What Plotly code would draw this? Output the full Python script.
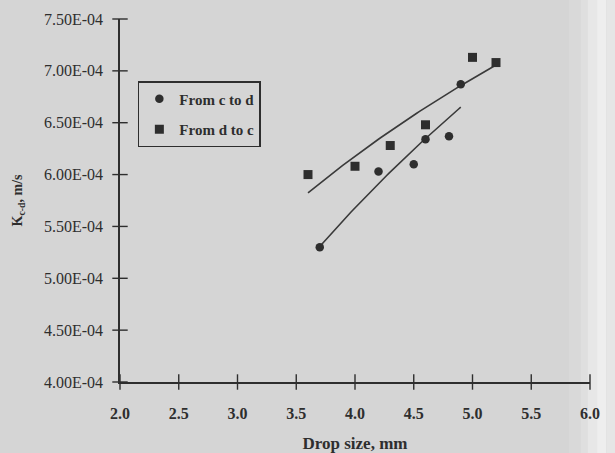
import numpy as np
import plotly.graph_objects as go

# Data
cd_x = [3.7, 4.2, 4.5, 4.6, 4.8, 4.9]
cd_y = [5.30e-4, 6.03e-4, 6.10e-4, 6.34e-4, 6.37e-4, 6.87e-4]
dc_x = [3.6, 4.0, 4.3, 4.6, 5.0, 5.2]
dc_y = [6.00e-4, 6.08e-4, 6.28e-4, 6.48e-4, 7.13e-4, 7.08e-4]
x_ticks = [2.0, 2.5, 3.0, 3.5, 4.0, 4.5, 5.0, 5.5, 6.0]
x_tick_text = ["2.0", "2.5", "3.0", "3.5", "4.0", "4.5", "5.0", "5.5", "6.0"]
y_ticks = [4.0e-4, 4.5e-4, 5.0e-4, 5.5e-4, 6.0e-4, 6.5e-4, 7.0e-4, 7.5e-4]
y_tick_text = ["4.00E-04", "4.50E-04", "5.00E-04", "5.50E-04",
               "6.00E-04", "6.50E-04", "7.00E-04", "7.50E-04"]
series_names = ["From c to d", "From d to c"]


def log_trend(xs, ys):
    xs = np.asarray(xs, float)
    ys = np.asarray(ys, float)
    a, b = np.polyfit(np.log(xs), ys, 1)
    xx = np.linspace(xs.min(), xs.max(), 60)
    return xx, a * np.log(xx) + b


FONT = "Liberation Serif"
INK = "#2e2e2e"
BG = "#d5d5d5"
fig = go.Figure()

# cross-style tick marks, placed at the tick values on the axis lines
fig.add_trace(go.Scatter(x=x_ticks, y=[y_ticks[0]] * len(x_ticks), mode="markers",
                         marker=dict(symbol="line-ns-open", size=11, color=INK,
                                     line=dict(color=INK, width=1.4)),
                         cliponaxis=False, showlegend=False, hoverinfo="skip"))
fig.add_trace(go.Scatter(x=[x_ticks[0]] * len(y_ticks), y=y_ticks, mode="markers",
                         marker=dict(symbol="line-ew-open", size=11, color=INK,
                                     line=dict(color=INK, width=1.4)),
                         cliponaxis=False, showlegend=False, hoverinfo="skip"))

for xs, ys in [(cd_x, cd_y), (dc_x, dc_y)]:
    tx, ty = log_trend(xs, ys)
    fig.add_trace(go.Scatter(x=tx, y=ty, mode="lines", showlegend=False,
                             line=dict(color="#3a3a3a", width=1.6), hoverinfo="skip"))

fig.add_trace(go.Scatter(x=cd_x, y=cd_y, mode="markers", name=series_names[0],
                         legendgroup="a",
                         marker=dict(symbol="circle", size=8.5, color=INK)))
fig.add_trace(go.Scatter(x=dc_x, y=dc_y, mode="markers", name=series_names[1],
                         legendgroup="b",
                         marker=dict(symbol="square", size=9, color=INK)))

# light strip at right edge (scan artefact)
strips = [(0.955, 0.98, "#d9d9d9"), (0.98, 0.995, "#dfdfdf"), (0.995, 1.015, "#e7e7e7"),
          (1.015, 1.035, "#eeeeee"), (1.035, 1.06, "#e6e6e6")]
shapes = []
for x0, x1, c in strips:
    shapes.append(dict(type="rect", xref="paper", yref="paper", x0=x0, x1=x1,
                       y0=-0.2, y1=1.06, fillcolor=c, line=dict(width=0), layer="below"))

axis_common = dict(showgrid=False, zeroline=False, linecolor=INK, linewidth=1.5,
                   ticks="", automargin=False)

fig.update_layout(
    width=615, height=453,
    margin=dict(l=120, r=25, t=19, b=71),
    paper_bgcolor=BG, plot_bgcolor="rgba(0,0,0,0)",
    shapes=shapes,
    xaxis=dict(range=[2.0, 6.0], tickvals=x_ticks, ticktext=x_tick_text,
               showline=True, ticklabelstandoff=16,
               tickfont=dict(family=FONT, size=16, color=INK, weight="bold"),
               title=dict(text="Drop size, mm", standoff=16,
                          font=dict(family=FONT, size=17, color=INK, weight="bold")),
               **axis_common),
    yaxis=dict(range=[4.0e-4, 7.5e-4], tickvals=y_ticks, ticktext=y_tick_text,
               showline=True, ticklabelstandoff=12,
               tickfont=dict(family=FONT, size=16, color=INK),
               title=dict(text="K<sub>c-d</sub>, m/s", standoff=18,
                          font=dict(family=FONT, size=14, color=INK, weight="bold")),
               **axis_common),
    legend=dict(x=0.038, y=0.829, xanchor="left", yanchor="top",
                bgcolor="rgba(0,0,0,0)", bordercolor=INK, borderwidth=1.5,
                font=dict(family=FONT, size=15, color=INK, weight="bold"),
                itemwidth=30, tracegroupgap=8),
    showlegend=True,
)

fig.write_html("out.html", config={"displayModeBar": False},
               post_script="document.body.style.margin='0';"
                           "document.body.style.background='#d5d5d5';")
